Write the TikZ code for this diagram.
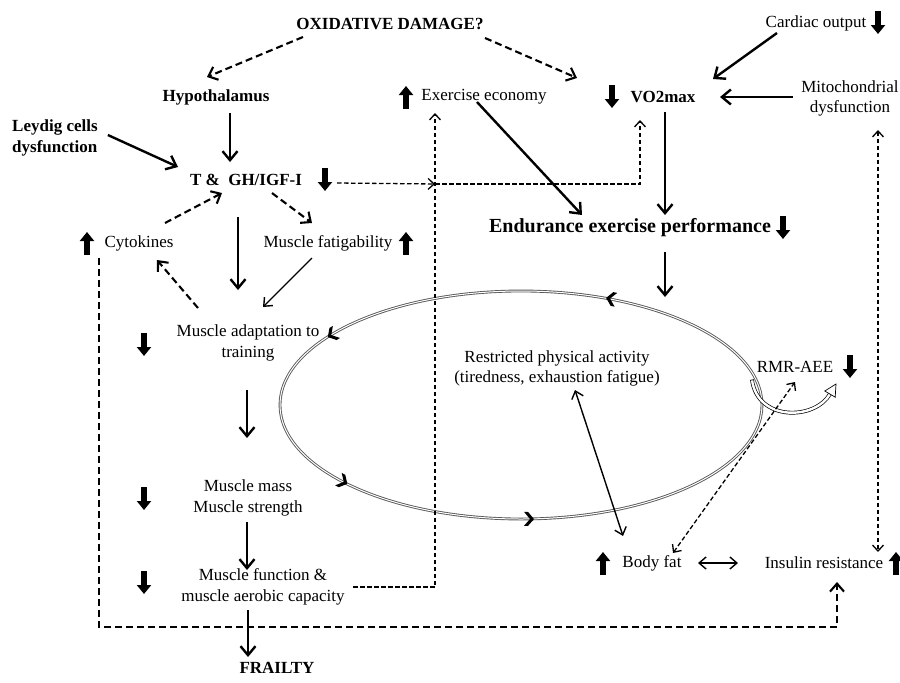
\documentclass[tikz,border=0pt]{standalone}
\usepackage{fontspec}
\setmainfont{Liberation Serif}
\usetikzlibrary{arrows.meta,calc}
\begin{document}
\begin{tikzpicture}[x=1pt,y=-1pt,
  every node/.style={inner sep=0pt, font=\fontsize{17pt}{21pt}\selectfont, align=center},
  bfnode/.style={font=\fontsize{17pt}{21pt}\selectfont\bfseries},
  sarr/.style={line width=2.4pt, -{Straight Barb[length=9pt,width=15pt]}},
  tarr/.style={line width=1.4pt, -{Straight Barb[length=7pt,width=12pt]}},
  tdarr/.style={line width=1.4pt, {Straight Barb[length=7pt,width=12pt]}-{Straight Barb[length=7pt,width=12pt]}},
  darr/.style={line width=2.1pt, dash pattern=on 7pt off 4pt, -{Straight Barb[length=8pt,width=14pt]}},
  ddarr/.style={line width=1.3pt, dash pattern=on 4.5pt off 2.5pt, -{Straight Barb[length=6pt,width=11pt]}},
  dddarr/.style={line width=1.3pt, dash pattern=on 4.5pt off 2.5pt, {Straight Barb[length=6pt,width=11pt]}-{Straight Barb[length=6pt,width=11pt]}},
  blk/.style={line width=6pt, -{Triangle[length=9pt,width=14pt]}},
  chev/.pic={\fill (-4,-7) -- (0,-7) -- (6,0) -- (0,7) -- (-4,7) -- (2,0) -- cycle;}
]
\fill[white] (0,0) rectangle (900,683);
\useasboundingbox (0,0) rectangle (900,683);

% ellipse cycle
\draw[line width=0.9pt, draw=black!65, double=white, double distance=1pt] (521,405) ellipse [x radius=241, y radius=114];
\pic[rotate=169] at (612,299) {chev};
\pic[rotate=210.6] at (333,334) {chev};
\pic[rotate=332.3] at (342,481) {chev};
\pic[rotate=-1] at (528,519) {chev};

% nodes
\node[bfnode] (oxd) at (390,24) {OXIDATIVE DAMAGE?};
\node[bfnode] (hyp) at (216,97) {Hypothalamus};
\node[bfnode, anchor=west, align=left] (ley) at (12,138) {Leydig cells\\dysfunction};
\node[bfnode] (tgh) at (246,180) {T \&~ GH/IGF-I};
\node (exe) at (484,97) {Exercise economy};
\node[bfnode] (vo2) at (663,97) {VO2max};
\node (car) at (816,23) {Cardiac output};
\node[font=\fontsize{17pt}{20pt}\selectfont] (mit) at (850,98) {Mitochondrial\\dysfunction};
\node[font=\fontsize{20pt}{24pt}\selectfont\bfseries] (endp) at (630,228) {Endurance exercise performance};
\node (cyt) at (139,243) {Cytokines};
\node (mfat) at (328,243) {Muscle fatigability};
\node (mad) at (248,343) {Muscle adaptation to\\training};
\node (mms) at (248,498) {Muscle mass\\Muscle strength};
\node (mfn) at (263,587) {Muscle function \&\\muscle aerobic capacity};
\node[bfnode] (fra) at (277,668) {FRAILTY};
\node[font=\fontsize{17pt}{20pt}\selectfont] (rpa) at (557,368) {Restricted physical activity\\(tiredness, exhaustion fatigue)};
\node (rmr) at (795,367) {RMR-AEE};
\node (bfat) at (652,563) {Body fat};
\node (ins) at (824,563) {Insulin resistance};

% block arrows (up / down symbols)
\foreach \x/\y in {325/180,612/97,878/23,783/228,144/345,144/499,144/583,850/367}
  \draw[blk] (\x,{\y-12}) -- (\x,{\y+11});
\foreach \x/\y in {87/243,406/243,406/97,603/563,896/563}
  \draw[blk] (\x,{\y+12}) -- (\x,{\y-11});

% RMR-AEE hollow curved arrow
\draw[line width=0.7pt, double=white, double distance=2.4pt] (752,380) .. controls (758,422) and (815,420) .. (830,394);
\draw[line width=0.7pt] (750.2,380.3) -- (753.8,379.7);
\draw[line width=0.7pt, fill=white] (835.2,397.2) -- (836,384) -- (824.8,391) -- cycle;

% connectors
\draw[darr] ($(oxd)+(-87,13)$) -- ($(hyp)+(-9,-20)$);
\draw[darr] ($(oxd)+(95,14)$) -- ($(vo2)+(-86,-19)$);
\draw[sarr] ($(car)+(-39,10)$) -- ($(vo2)+(50,-18)$);
\draw[sarr] ($(mit)+(-57,-1)$) -- ($(vo2)+(57,0)$);
\draw[sarr] ($(hyp)+(14,16)$) -- ($(tgh)+(-16,-18)$);
\draw[sarr] ($(ley.east)+(10,-3)$) -- ($(tgh)+(-68,-13)$);
\coordinate (j1) at (435,184);
\draw[ddarr] ($(tgh)+(91,3)$) -- (j1);
\draw[ddarr] (j1) -| ($(vo2)+(-23,23)$);
\draw[ddarr] ($(mfn)+(90,0)$) -| ($(exe)+(-49,16)$);
\draw[sarr] ($(exe)+(-7,5)$) -- ($(endp)+(-48,-13)$);
\draw[sarr] ($(vo2)+(2,15)$) -- ($(endp)+(35,-13)$);
\draw[sarr] ($(endp)+(35,24)$) -- ($(endp)+(35,69)$);
\draw[sarr] ($(tgh)+(-8,37)$) -- ($(mad)+(-10,-53)$);
\draw[darr] ($(cyt)+(26,-20)$) -- ($(tgh)+(-24,13)$);
\draw[darr] ($(tgh)+(26,13)$) -- ($(mfat)+(-16,-20)$);
\draw[tarr] ($(mfat)+(-16,15)$) -- ($(mad)+(15,-36)$);
\draw[darr] ($(mad)+(-50,-35)$) -- ($(cyt)+(18,17)$);
\draw[sarr] ($(mad)+(-1,47)$) -- ($(mms)+(-1,-60)$);
\draw[sarr] ($(mms)+(-1,24)$) -- ($(mfn)+(-16,-17)$);
\draw[sarr] ($(mfn)+(-15,23)$) -- ($(fra)+(-29,-11)$);
\draw[darr] ($(cyt)+(-40,15)$) |- ($(ins)+(13,64)$) -- ($(ins)+(13,19)$);
\draw[dddarr] ($(mit)+(28,32)$) -- ($(ins)+(54,-11)$);
\draw[tdarr] ($(bfat)+(46,0)$) -- ($(ins)+(-86,0)$);
\draw[tdarr] ($(rpa)+(18,22)$) -- ($(bfat)+(-29,-27)$);
\draw[dddarr] ($(bfat)+(21,-10)$) -- ($(rmr)+(0,15)$);
\end{tikzpicture}
\end{document}
